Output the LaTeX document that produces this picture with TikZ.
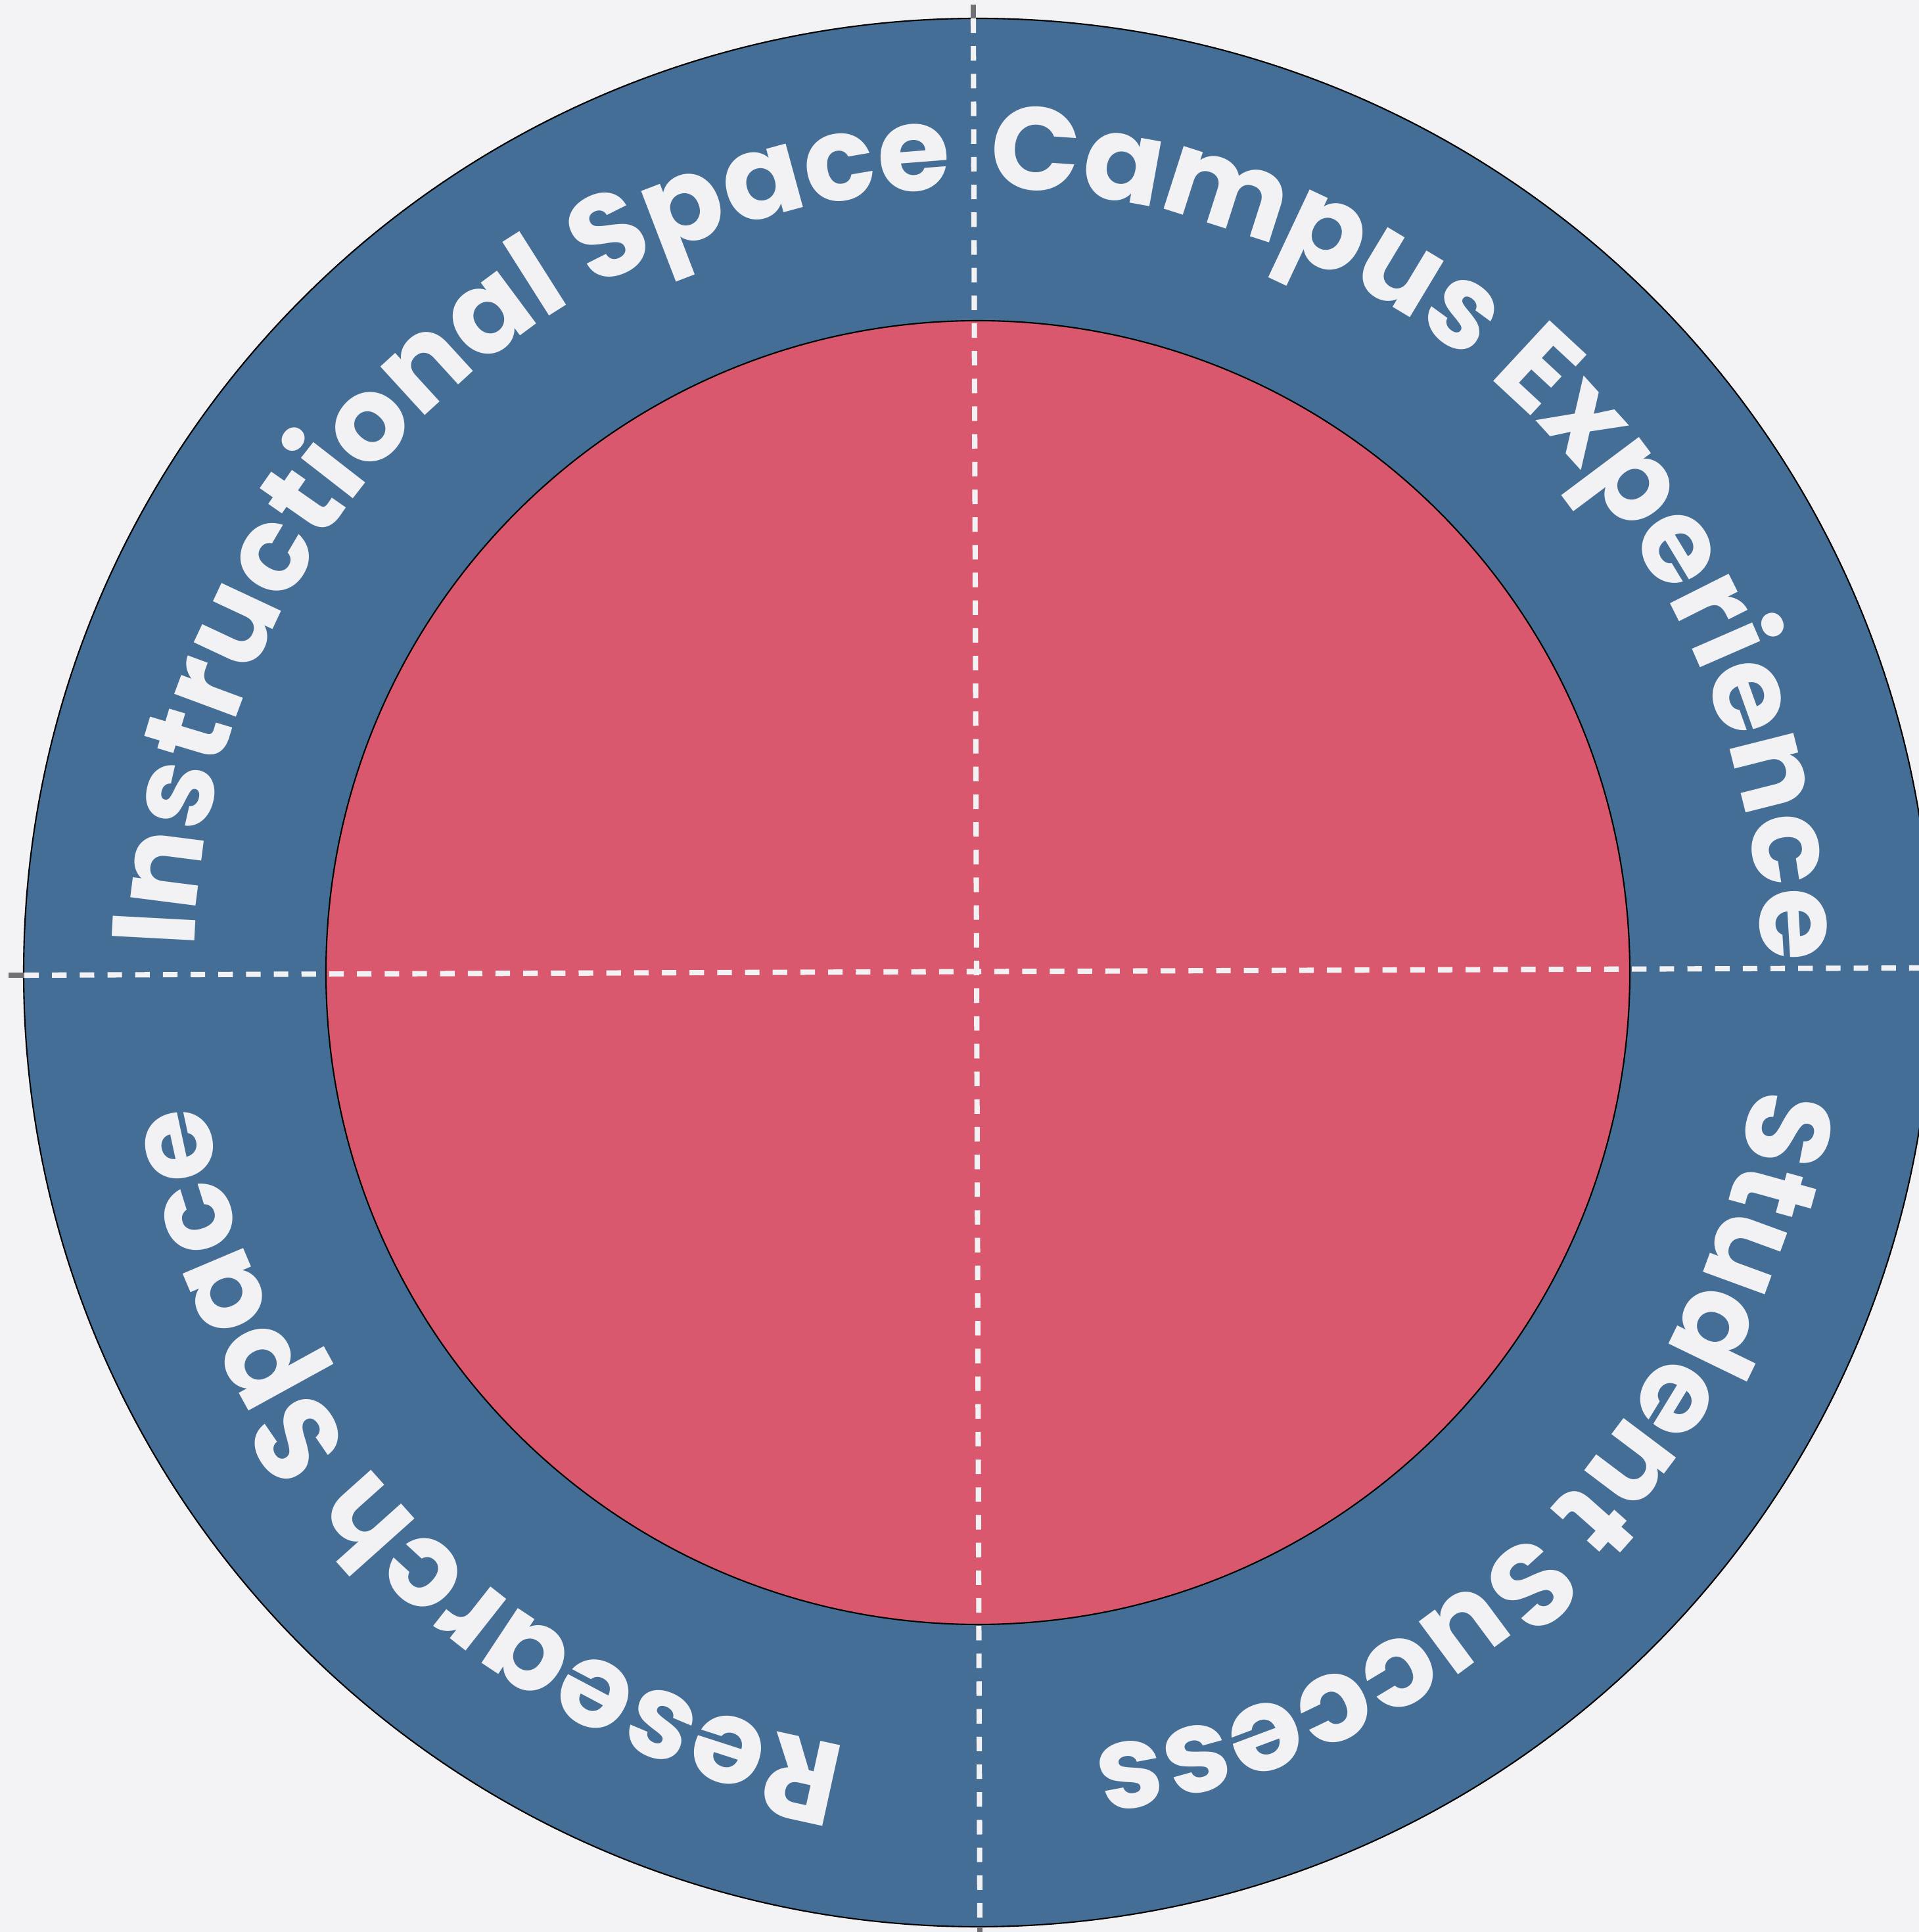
\documentclass[tikz,border=0pt]{standalone}
\usepackage{fontspec}
\setmainfont{Poppins}
\usetikzlibrary{decorations.text}
\definecolor{paper}{HTML}{F3F3F5}
\definecolor{ringblue}{HTML}{456E96}
\definecolor{corered}{HTML}{DA586E}
\definecolor{tickgray}{HTML}{707075}
\definecolor{labelwhite}{HTML}{F2F2F5}
\tikzset{
    ringlabel/.style={decorate, decoration={text along path, text align=center,
        text={|\fontsize{51}{51}\selectfont\bfseries\color{labelwhite}|#1}}},
    crossline/.style={labelwhite, line width=2.3pt, dash pattern=on 6.3pt off 5.7pt},
    crosstick/.style={tickgray, line width=2.3pt},
}
\begin{document}
\begin{tikzpicture}
    \useasboundingbox (0,0) rectangle (29.2,29.4);
    \clip (0,0) rectangle (29.2,29.4);
    \fill[paper] (0,0) rectangle (29.2,29.4);
    \coordinate (c) at (14.88,14.60);
    \draw[line width=0.6pt, fill=ringblue] (c) circle [radius=14.52];
    \draw[line width=0.6pt, fill=corered] (c) circle [radius=9.92];
    \draw[crossline] (14.81,29.12) -- (14.91,0.08);
    \draw[crossline] (0.37,14.56) -- (29.2,14.67);
    \draw[crosstick] (14.81,29.33) -- (14.81,29.12);
    \draw[crosstick] (0.13,14.56) -- (0.37,14.56);
    \draw[crosstick] (14.91,0.08) -- (14.91,0);
    \path[ringlabel={Instructional Space}] ([shift={(195:11.93)}]c) arc [start angle=195, end angle=75, radius=11.93];
    \path[ringlabel={Campus Experience}] ([shift={(105:11.93)}]c) arc [start angle=105, end angle=-15, radius=11.93];
    \path[ringlabel={Student Success}] ([shift={(15:11.93)}]c) arc [start angle=15, end angle=-105, radius=11.93];
    \path[ringlabel={Research Space}] ([shift={(-75:11.93)}]c) arc [start angle=-75, end angle=-195, radius=11.93];
\end{tikzpicture}
\end{document}
